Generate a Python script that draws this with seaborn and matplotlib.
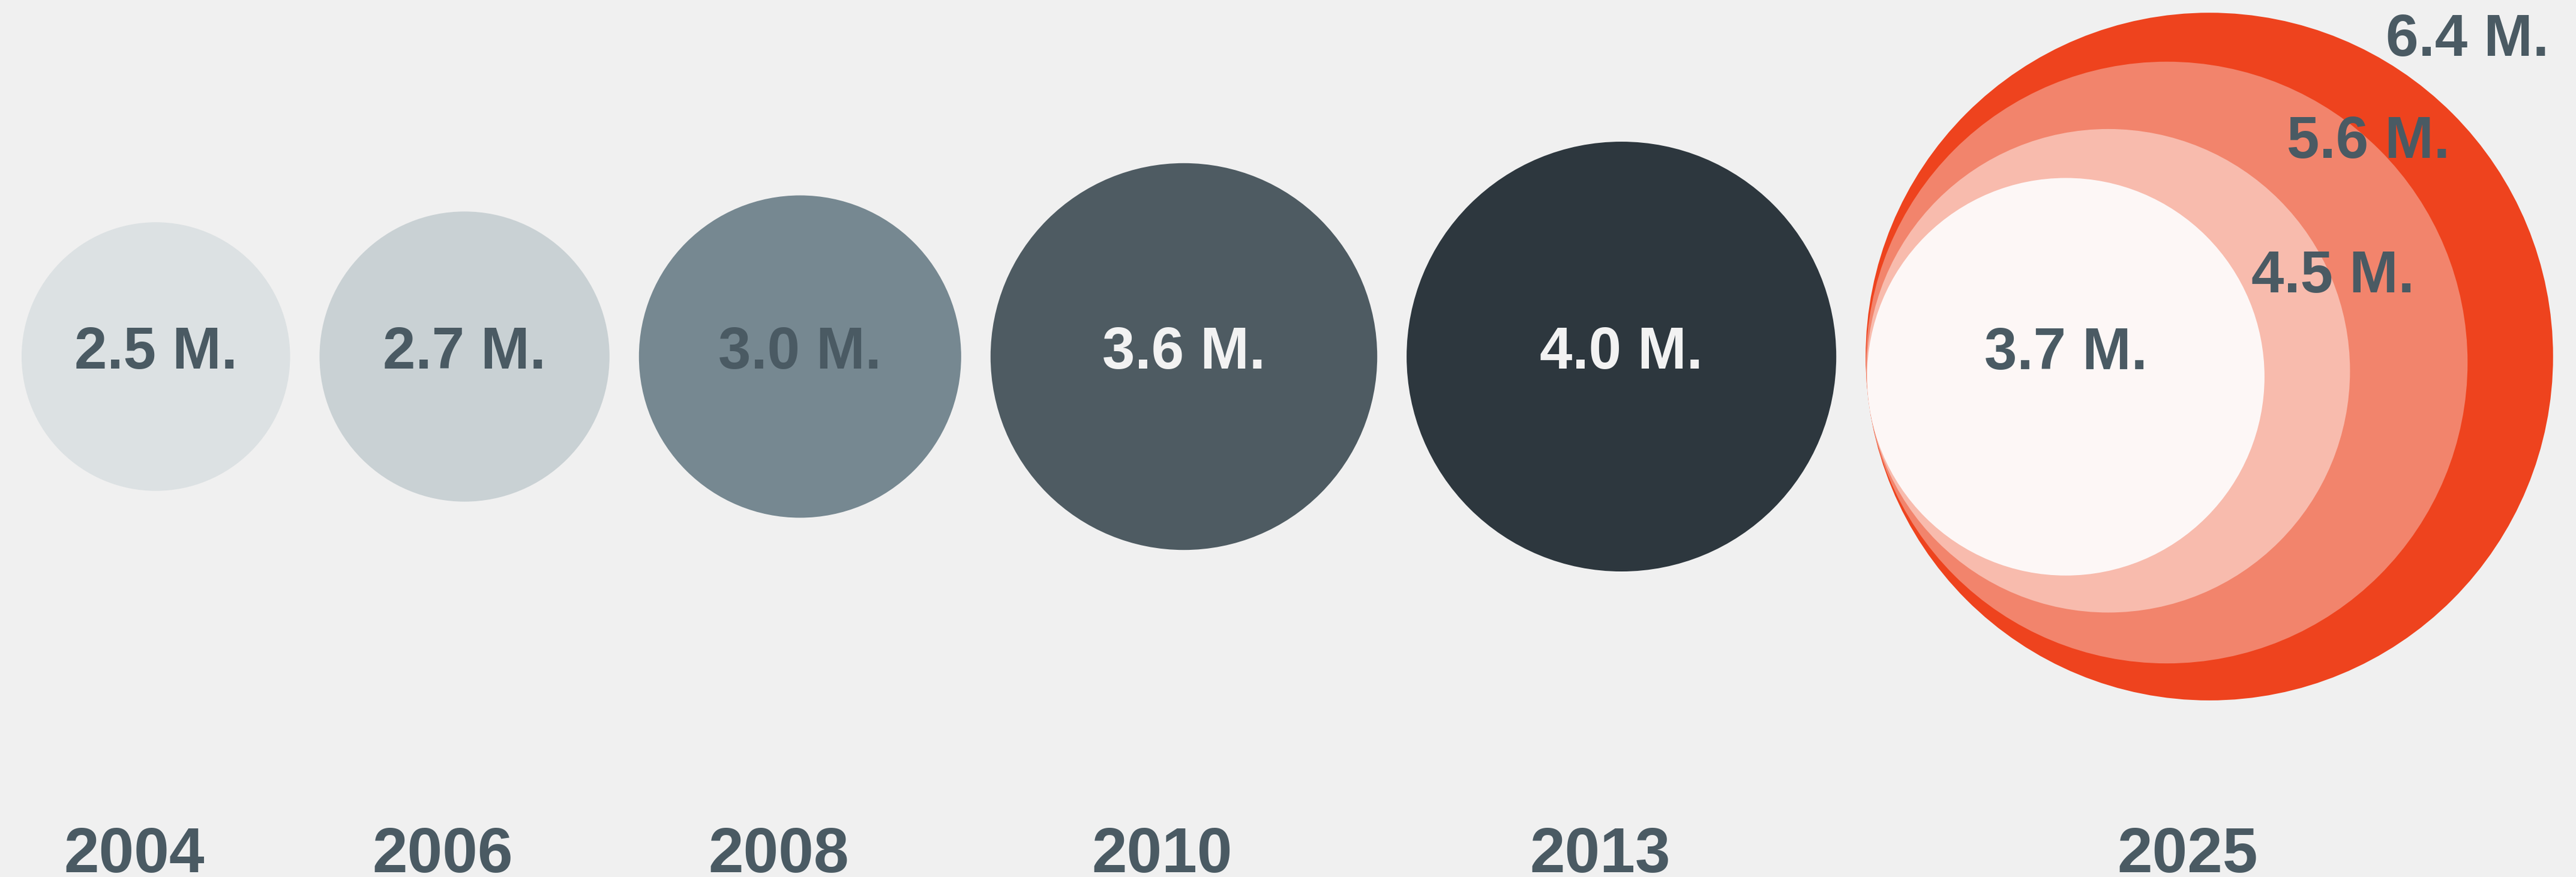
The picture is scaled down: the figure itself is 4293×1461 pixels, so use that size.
import numpy as np
import matplotlib
matplotlib.use("Agg")
import matplotlib.pyplot as plt
from matplotlib.patches import Circle
import seaborn as sns

# ---------------- data ----------------
years = ["2004", "2006", "2008", "2010", "2013", "2025"]
values = [2.5, 2.7, 3.0, 3.6, 4.0, 6.4]          # millions
value_labels = ["2.5 M.", "2.7 M.", "3.0 M.", "3.6 M.", "4.0 M.", "6.4 M."]
nested_values = [6.4, 5.6, 4.5, 3.7]              # 2025 scenarios
nested_labels = ["6.4 M.", "5.6 M.", "4.5 M.", "3.7 M."]

# ---------------- style ----------------
circle_colors = ["#dce1e3", "#c9d1d4", "#768891", "#4e5b62", "#2d373e"]
label_colors = ["#4a5a63", "#4a5a63", "#4a5a63", "#f2f2f2", "#f2f2f2"]
nested_colors = ["#ee431e", "#f2846c", "#f8bbad", "#fdf7f6"]
text_dark = "#4a5a63"
bg = "#f0f0f0"

sns.set_theme(style="white")
plt.rcParams["font.family"] = ["Liberation Sans", "DejaVu Sans"]

W, H = 4293, 1461
fig = plt.figure(figsize=(W / 100, H / 100), dpi=100)
fig.patch.set_facecolor(bg)
ax = fig.add_axes([0, 0, 1, 1])
ax.set_facecolor(bg)
ax.set_xlim(0, W)
ax.set_ylim(H, 0)
ax.axis("off")

k = 89.5        # pixels per million (radius)
gap = 49        # gap between circles
left = 36
cy = 594
base_off = 20   # baseline of value labels below circle centre
val_fs = 70.5
year_fs = 76

# layout of circles left to right
centers = []
x = left
for v in values:
    r = k * v
    cx = x + r
    centers.append(cx)
    x = cx + r + gap

# plain circles
for i in range(5):
    r = k * values[i]
    ax.add_patch(Circle((centers[i], cy), r, facecolor=circle_colors[i], lw=0))
    ax.text(centers[i], cy + base_off, value_labels[i], ha="center", va="baseline",
            fontsize=val_fs, fontweight="bold", color=label_colors[i])

# nested 2025 circles, internally tangent at a point on the left
theta = np.deg2rad(8)
C = centers[-1]
R = k * nested_values[0]
label_pos = [(51.3, 1.20), (48.2, 1.006), (23.9, 1.017), None]
for v, col, lab, lp in zip(nested_values, nested_colors, nested_labels, label_pos):
    r = k * v
    d = R - r
    ncx = C - d * np.cos(theta)
    ncy = cy + d * np.sin(theta)
    ax.add_patch(Circle((ncx, ncy), r, facecolor=col, lw=0))

for v, lab, lp in zip(nested_values, nested_labels, label_pos):
    r = k * v
    d = R - r
    ncx = C - d * np.cos(theta)
    ncy = cy + d * np.sin(theta)
    if lp is None:
        tx, ty = ncx, cy + base_off + 1
    else:
        a, f = lp
        tx = ncx + f * r * np.cos(np.deg2rad(a))
        ty = ncy - f * r * np.sin(np.deg2rad(a)) + 35
    ax.text(tx, ty, lab, ha="center", va="baseline", fontsize=val_fs,
            fontweight="bold", color=text_dark)

# year labels
for cx, yr in zip(centers, years):
    ax.text(cx - 36, 1453, yr, ha="center", va="baseline", fontsize=year_fs,
            fontweight="bold", color=text_dark)

fig.savefig("out.png", dpi=100, facecolor=bg)
